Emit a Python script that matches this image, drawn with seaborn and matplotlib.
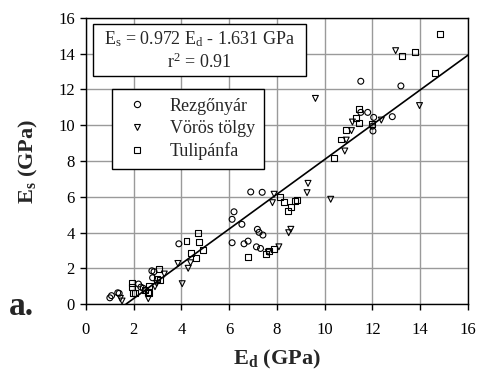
import matplotlib
matplotlib.use("Agg")
import matplotlib.pyplot as plt
import seaborn as sns
import numpy as np
import pandas as pd
from matplotlib.lines import Line2D
from matplotlib.patches import Rectangle

# Data (E_d, E_s) in GPa
rez_x = [1.0, 1.07, 1.33, 1.39, 2.2, 2.3, 2.4, 2.5, 2.79, 2.85, 2.76, 3.89, 6.12, 6.2, 6.12, 6.53,
         6.62, 6.79, 6.9, 7.38, 7.14, 7.31, 7.18, 7.25, 7.41, 11.51, 13.19, 11.51, 11.8, 12.05,
         12.83, 12.02, 12.0]
rez_y = [0.35, 0.47, 0.63, 0.6, 1.12, 0.95, 0.88, 0.75, 1.47, 1.81, 1.86, 3.37, 3.43, 5.16, 4.74,
         4.46, 3.37, 3.52, 6.27, 6.25, 3.2, 3.11, 4.18, 4.01, 3.86, 12.46, 12.2, 10.72, 10.72,
         10.44, 10.48, 9.68, 9.95]

vor_x = [1.44, 1.51, 2.61, 2.89, 2.96, 3.28, 3.85, 4.03, 4.28, 4.38, 7.63, 8.08, 7.81, 7.88,
         8.49, 8.58, 9.26, 9.3, 10.25, 9.61, 10.84, 10.9, 11.12, 11.16, 12.37, 13.97, 12.97]
vor_y = [0.32, 0.17, 0.3, 0.97, 1.16, 1.68, 2.27, 1.14, 2.0, 2.31, 2.9, 3.2, 5.67, 6.14,
         3.99, 4.18, 6.23, 6.75, 5.86, 11.5, 8.56, 9.17, 9.7, 10.18, 10.29, 11.1, 14.17]

tul_x = [1.91, 1.94, 1.98, 2.05, 2.47, 2.61, 2.64, 2.64, 3.05, 2.96, 3.1, 4.21, 4.39, 4.59, 4.7,
         4.73, 4.91, 6.78, 7.53, 7.66, 7.88, 8.12, 8.3, 8.48, 8.6, 8.74, 8.84, 10.4, 10.7, 10.9,
         11.3, 11.44, 11.44, 11.98, 13.25, 13.77, 14.81, 14.6]
tul_y = [0.97, 1.16, 0.63, 0.6, 0.78, 0.69, 0.6, 1.03, 1.96, 1.4, 1.34, 3.52, 2.87, 2.56, 3.95,
         3.45, 3.0, 2.61, 2.8, 2.95, 3.06, 6.0, 5.69, 5.2, 5.44, 5.78, 5.82, 8.15, 9.2, 9.73,
         10.39, 10.15, 10.9, 10.05, 13.87, 14.11, 15.1, 12.94]

species = ["Rezgőnyár", "Vörös tölgy", "Tulipánfa"]
slope, intercept = 0.972, -1.631

df = pd.concat([
    pd.DataFrame({"Ed": rez_x, "Es": rez_y, "sp": species[0]}),
    pd.DataFrame({"Ed": vor_x, "Es": vor_y, "sp": species[1]}),
    pd.DataFrame({"Ed": tul_x, "Es": tul_y, "sp": species[2]}),
])

sns.set_style("white")
plt.rcParams["font.family"] = ["Liberation Serif", "DejaVu Serif"]
plt.rcParams["mathtext.fontset"] = "custom"
plt.rcParams["mathtext.rm"] = "Liberation Serif"
plt.rcParams["mathtext.it"] = "Liberation Serif:italic"
plt.rcParams["mathtext.bf"] = "Liberation Serif:bold"

fig = plt.figure(figsize=(4.79, 3.74), dpi=100)
ax = fig.add_axes([0.1795, 0.187, 0.7975, 0.765])

markers = {species[0]: "o", species[1]: "v", species[2]: "s"}
for sp in species:
    sub = df[df["sp"] == sp]
    sns.scatterplot(data=sub, x="Ed", y="Es", marker=markers[sp], s=18,
                    facecolor="none", edgecolor="black", linewidth=0.8, ax=ax, zorder=3,
                    legend=False)

x0 = -intercept / slope
xl = np.array([x0, 16])
sns.lineplot(x=xl, y=slope * xl + intercept, color="black", linewidth=1.2, ax=ax, zorder=4)

ax.set_xlim(0, 16)
ax.set_ylim(0, 16)
ax.set_xticks(range(0, 17, 2))
ax.set_yticks(range(0, 17, 2))
ax.grid(True, color="#9a9a9a", linewidth=1.0)
ax.set_axisbelow(True)
for s in ax.spines.values():
    s.set_color("black")
    s.set_linewidth(1.0)
ax.tick_params(direction="out", length=4, width=1, labelsize=12, colors="black",
               bottom=True, left=True)
ax.tick_params(axis="x", pad=9)
ax.tick_params(axis="y", pad=4)
ax.set_xlabel(r"E$_\mathbf{d}$ (GPa)", fontsize=16, fontweight="bold", labelpad=7)
ax.set_ylabel(r"E$_\mathbf{s}$ (GPa)", fontsize=16, fontweight="bold", labelpad=13)

# equation box
ax.add_patch(Rectangle((0.018, 0.797), 0.558, 0.182, transform=ax.transAxes,
                       facecolor="white", edgecolor="black", linewidth=1.0, zorder=5))
ax.text(0.297, 0.925, r"E$_\mathrm{s}$ = 0.972 E$_\mathrm{d}$ - 1.631 GPa", transform=ax.transAxes,
        ha="center", va="center", fontsize=13, zorder=6)
ax.text(0.297, 0.845, r"r$^\mathrm{2}$ = 0.91", transform=ax.transAxes,
        ha="center", va="center", fontsize=13, zorder=6)

handles = [Line2D([], [], linestyle="none", marker=markers[sp], markersize=4.5,
                  markerfacecolor="none", markeredgecolor="black", markeredgewidth=0.8)
           for sp in species]
leg = ax.legend(handles, species, loc="upper left", bbox_to_anchor=(0.068, 0.753),
                frameon=True, fancybox=False, framealpha=1, edgecolor="black",
                fontsize=13, handletextpad=0.9, borderpad=0.5, labelspacing=0.3,
                handlelength=1.8, borderaxespad=0)
leg.get_frame().set_linewidth(1.0)
leg.set_zorder(6)

fig.text(0.018, 0.158, "a.", fontsize=24, fontweight="bold", ha="left", va="baseline")

fig.savefig("out.png", dpi=100)
